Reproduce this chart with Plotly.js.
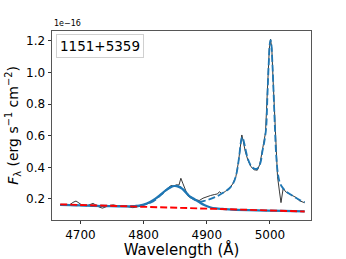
<!DOCTYPE html>
<html>
<head>
<meta charset="utf-8">
<script src="https://cdn.plot.ly/plotly-3.0.1.min.js"></script>
<style>html,body{margin:0;padding:0;background:#fff;}#chart{width:346px;height:259px;}</style>
</head>
<body>
<div id="chart"></div>
<script>
// Observed spectrum (units of 1e-16 erg s^-1 cm^-2 A^-1)
const obsWave = [4668,4676,4683,4688,4693,4698,4703,4710,4716,4720,4725,4730,4735,4740,4745,4752,4758,4765,4772,4778,4783,4790,4796,4802,4810,4818,4825,4832,4838,4843,4848,4852,4856,4859,4862,4866,4870,4875,4881,4888,4894,4900,4906,4912,4917,4920,4924,4930,4936,4941,4946,4950,4953,4955.5,4958,4961,4965,4970,4975,4980,4984,4987,4990,4993,4995,4997,4999,5001,5003,5005,5007,5009,5012,5015,5017.5,5021,5025,5029,5034,5038,5042,5046,5052,5055];
const obsFlux = [0.163,0.160,0.163,0.178,0.187,0.172,0.160,0.157,0.165,0.172,0.160,0.148,0.142,0.152,0.158,0.163,0.157,0.158,0.154,0.150,0.145,0.150,0.155,0.165,0.175,0.195,0.215,0.240,0.265,0.285,0.282,0.290,0.288,0.331,0.300,0.255,0.220,0.205,0.198,0.190,0.205,0.215,0.222,0.228,0.232,0.246,0.233,0.250,0.268,0.295,0.340,0.430,0.540,0.605,0.560,0.500,0.447,0.404,0.385,0.382,0.420,0.490,0.560,0.620,0.800,1.000,1.150,1.211,1.150,0.950,0.750,0.550,0.341,0.250,0.177,0.268,0.245,0.236,0.225,0.218,0.208,0.190,0.180,0.176];

// Total model fit
const modelWave = [4668,4700,4750,4780,4800,4815,4830,4842,4850,4858,4866,4875,4882,4888,4896,4904,4912,4920,4928,4936,4942,4947,4951,4954,4956,4958,4961,4965,4970,4975,4980,4985,4988,4991,4994,4996,4998,5000,5001,5002,5004,5006,5008,5010,5013,5016,5020,5025,5032,5040,5048,5055];
const modelFlux = [0.162,0.160,0.157,0.155,0.163,0.185,0.235,0.275,0.283,0.275,0.245,0.210,0.192,0.183,0.188,0.198,0.210,0.225,0.245,0.268,0.300,0.360,0.460,0.560,0.592,0.575,0.520,0.455,0.410,0.392,0.392,0.430,0.500,0.560,0.650,0.850,1.050,1.190,1.205,1.190,1.050,0.850,0.640,0.470,0.350,0.300,0.272,0.250,0.230,0.210,0.192,0.180];

// Broad H-beta component + continuum
const broadWave = [4668,4700,4740,4770,4785,4795,4805,4815,4825,4835,4843,4849,4855,4862,4872,4880,4888,4896,4905,4915,4925,4940,4980,5020,5055];
const broadFlux = [0.163,0.159,0.155,0.153,0.155,0.160,0.172,0.192,0.222,0.254,0.275,0.282,0.278,0.262,0.220,0.200,0.180,0.162,0.148,0.140,0.137,0.133,0.128,0.125,0.122];

// Power-law continuum
const contWave = [4668,5055];
const contFlux = [0.166,0.121];

const label = '1151+5359';
const xTicks = [4700,4800,4900,5000];
const yTicks = [0.2,0.4,0.6,0.8,1.0,1.2];

const blue = '#1f77b4';
const traces = [
  {x: obsWave, y: obsFlux, mode:'lines', line:{color:'#222', width:0.9}, hoverinfo:'skip'},
  {x: broadWave, y: broadFlux, mode:'lines', line:{color:blue, width:2.2, shape:'spline'}, hoverinfo:'skip'},
  {x: modelWave, y: modelFlux, mode:'lines', line:{color:blue, width:1.8, dash:'7px,3px', shape:'spline'}, hoverinfo:'skip'},
  {x: contWave, y: contFlux, mode:'lines', line:{color:'#ff0000', width:1.9, dash:'7px,3px'}, hoverinfo:'skip'}
];

const font = 'DejaVu Sans, sans-serif';
const layout = {
  width:346, height:259,
  margin:{l:52, r:35, t:31, b:39},
  paper_bgcolor:'#fff', plot_bgcolor:'#fff',
  showlegend:false,
  font:{family:font, color:'#000', size:12},
  xaxis:{
    range:[4655,5065], tickvals:xTicks, ticktext:xTicks.map(String),
    ticks:'outside', ticklen:3.5, tickwidth:0.8, tickcolor:'#000',
    showline:true, mirror:true, linecolor:'#444', linewidth:0.9,
    showgrid:false, zeroline:false,
    tickfont:{size:12, family:font},
    title:{text:'Wavelength (Å)', font:{size:15, family:font}, standoff:3}
  },
  yaxis:{
    range:[0.067,1.263], tickvals:yTicks, ticktext:yTicks.map(v=>v.toFixed(1)),
    ticks:'outside', ticklen:3.5, tickwidth:0.8, tickcolor:'#000',
    showline:true, mirror:true, linecolor:'#444', linewidth:0.9,
    showgrid:false, zeroline:false,
    tickfont:{size:12, family:font},
    title:{text:'<i>F</i><sub>λ</sub> (erg s<sup>−1</sup> cm<sup>−2</sup>)', font:{size:14, family:font}, standoff:4}
  },
  annotations:[
    {xref:'paper', yref:'paper', x:0, y:1, xanchor:'left', yanchor:'bottom', yshift:1,
     text:'1e−16', showarrow:false, font:{size:8, family:font}},
    {xref:'paper', yref:'paper', x:0.016, y:0.985, xanchor:'left', yanchor:'top',
     text:label, showarrow:false, font:{size:13.5, family:font},
     bgcolor:'rgba(255,255,255,0.8)', bordercolor:'#d0d0d0', borderwidth:1, borderpad:3}
  ]
};
Plotly.newPlot('chart', traces, layout, {staticPlot:true, displayModeBar:false});
</script>
</body>
</html>
